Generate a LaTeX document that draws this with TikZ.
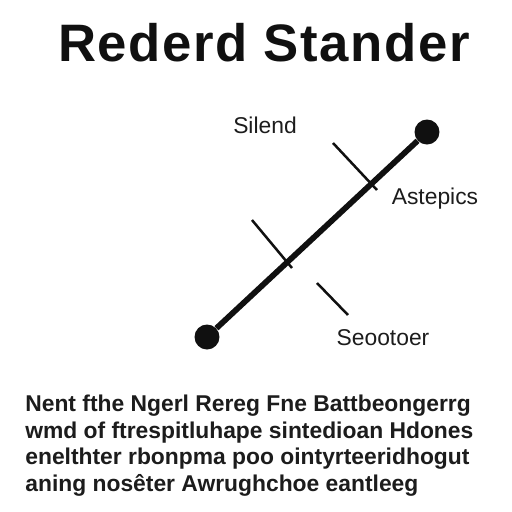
\documentclass[tikz,border=0pt]{standalone}
\usepackage{fontspec}
\setmainfont{Liberation Sans}
\usetikzlibrary{positioning}
\definecolor{rodblack}{RGB}{16,16,16}
\definecolor{textgray}{RGB}{28,28,28}

\begin{document}
\begin{tikzpicture}[x=0.02cm,y=-0.02cm]
  \useasboundingbox[fill=white] (0,0) rectangle (512,512);
  \tikzset{
    enddot/.style={circle,fill=rodblack,inner sep=0pt,minimum size=0.5cm},
    rod/.style={rodblack,line width=0.115cm},
    tick/.style={rodblack,line width=0.05cm},
    tag/.style={font=\fontsize{13}{15}\selectfont,text=textgray,inner sep=0pt,anchor=base},
    prose/.style={font=\bfseries\fontsize{13}{15}\selectfont,text=textgray,inner sep=0pt,anchor=base west}
  }
  % title
  \node[anchor=base,inner sep=0pt,text=rodblack,
    font=\bfseries\fontsize{30}{36}\selectfont\addfontfeatures{LetterSpace=3}]
    (title) at (264,61) {Rederd Stander};
  % tick marks across the rod
  \coordinate (t1a) at (333,143); \coordinate (t1b) at (377,190);
  \coordinate (t2a) at (252,220); \coordinate (t2b) at (292,268);
  \coordinate (t3a) at (317,283); \coordinate (t3b) at (348,315);
  \draw[tick] (t1a) -- (t1b);
  \draw[tick] (t2a) -- (t2b);
  \draw[tick] (t3a) -- (t3b);
  % rod with its end dots
  \node[enddot] (lo) at (207,337) {};
  \node[enddot] (hi) at (427,132) {};
  \draw[rod] (lo) -- (hi);
  % labels
  \node[tag] (silend) at (265,133) {Silend};
  \node[tag] (astep) at (435,204) {Astepics};
  \node[tag] (seoot) at (383,345) {Seootoer};
  % text below
  \node[prose] (l1) at (25,411) {Nent fthe Ngerl Rereg Fne Battbeongerrg};
  \node[prose] (l2) at (25,438) {wmd of ftrespitluhape sintedioan Hdones};
  \node[prose] (l3) at (25,464) {enelthter rbonpma poo ointyrteeridhogut};
  \node[prose] (l4) at (25,491) {aning nosêter Awrughchoe eantleeg};
\end{tikzpicture}
\end{document}
